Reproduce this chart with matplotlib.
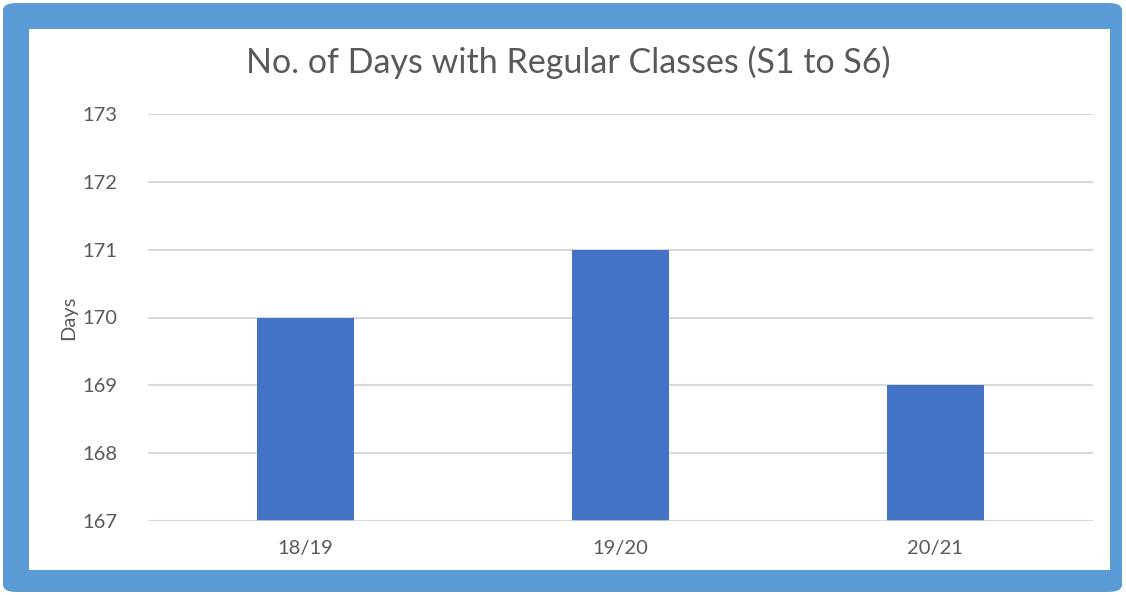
"""Bar chart: number of days with regular classes per school year."""

import matplotlib
matplotlib.use("Agg")
import matplotlib.pyplot as plt
from matplotlib.patches import FancyBboxPatch, Rectangle

years = ["18/19", "19/20", "20/21"]
days = [170, 171, 169]
y_ticks = [167, 168, 169, 170, 171, 172, 173]

plt.rcParams["font.family"] = ["Lato", "DejaVu Sans"]

W, H = 1126, 595
fig = plt.figure(figsize=(W / 100, H / 100), dpi=100)
fig.patch.set_facecolor("white")

# blue frame with rounded corners, white chart area inside
frame = FancyBboxPatch((3 / W, 3 / H), 1119 / W, 589 / H,
                       boxstyle="round,pad=0,rounding_size=0.012",
                       transform=fig.transFigure, facecolor="#5B9BD5",
                       edgecolor="none", zorder=0)
fig.patches.append(frame)
inner = Rectangle((29 / W, 1 - 570 / H), (1110 - 29) / W, (570 - 29) / H,
                  transform=fig.transFigure, facecolor="white",
                  edgecolor="none", zorder=1)
fig.patches.append(inner)

ax = fig.add_axes([148 / W, 1 - 521 / H, (1093 - 148) / W, (521 - 114) / H])
ax.set_facecolor("none")
ax.set_zorder(2)

x = range(len(years))
ax.bar(x, days, width=0.31, color="#4472C4", zorder=3)
ax.set_xlim(-0.5, len(years) - 0.5)
ax.set_ylim(y_ticks[0], y_ticks[-1])
ax.set_yticks(y_ticks)
ax.set_xticks(list(x))
ax.set_xticklabels(years)

for s in ax.spines.values():
    s.set_visible(False)
ax.grid(axis="y", color="#D9D9D9", linewidth=1.5, zorder=0)
ax.axhline(y_ticks[0], color="#D9D9D9", linewidth=1.8, zorder=4)
ax.tick_params(axis="both", length=0, colors="#595959", labelsize=14.5)
ax.tick_params(axis="y", pad=22)
ax.tick_params(axis="x", pad=14)
ax.set_ylabel("Days", color="#595959", fontsize=14.5, labelpad=4)

fig.text(568 / W, 1 - 62 / H, "No. of Days with Regular Classes (S1 to S6)",
         ha="center", va="center", fontsize=24.5, color="#595959")

fig.savefig("out.png", dpi=100)
